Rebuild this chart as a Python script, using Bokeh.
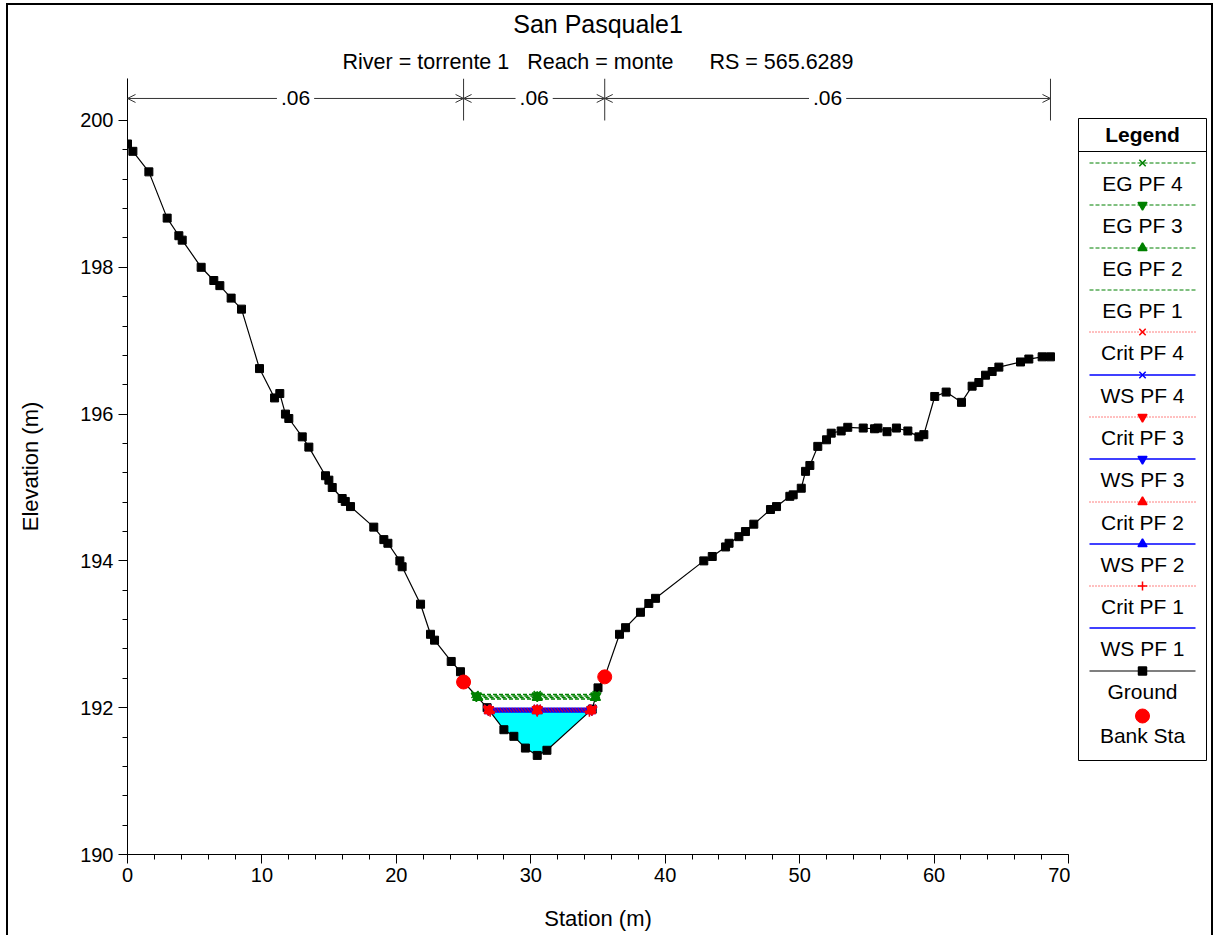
import re
import numpy as np
from bokeh.plotting import figure
from bokeh.layouts import row
from bokeh.models import Range1d, Label, Arrow, OpenHead, FixedTicker, Title, InlineStyleSheet
from bokeh.embed import file_html
from bokeh.resources import INLINE
from bokeh.core.properties import value

# ---------------- data ----------------
title_text = "San Pasquale1"
subtitle_text = "River = torrente 1   Reach = monte      RS = 565.6289"

station = [0.0, 0.4, 1.59, 2.95, 3.82, 4.07, 5.48, 6.42, 6.87, 7.71, 8.48, 9.82,
           10.94, 11.33, 11.75, 12.0, 13.0, 13.49, 14.73, 14.98, 15.23, 15.97, 16.2,
           16.59, 18.32, 19.07, 19.37, 20.26, 20.43, 21.8, 22.54, 22.84, 24.08, 24.77,
           25.0, 26.75, 28.0, 28.74, 29.6, 30.48, 31.2, 34.57, 35.0, 35.5, 36.6, 37.05,
           38.16, 38.78, 39.28, 42.87, 43.5, 44.49, 44.75, 45.48, 45.97, 46.59, 47.83,
           48.28, 49.27, 49.52, 50.12, 50.44, 50.76, 51.35, 52.0, 52.35, 53.09, 53.58,
           54.73, 55.57, 55.82, 56.5, 57.2, 58.05, 58.87, 59.24, 60.05, 60.9, 62.04,
           62.83, 63.33, 63.83, 64.32, 64.82, 66.43, 67.05, 68.04, 68.66]
elevation = [199.68, 199.58, 199.3, 198.67, 198.43, 198.37, 198.0, 197.82, 197.75, 197.58,
             197.43, 196.62, 196.22, 196.28, 196.0, 195.94, 195.69, 195.55, 195.16, 195.1,
             195.0, 194.85, 194.81, 194.74, 194.46, 194.29, 194.24, 194.0, 193.92, 193.41,
             193.0, 192.92, 192.63, 192.49, 192.35, 192.0, 191.7, 191.61, 191.45, 191.35,
             191.42, 191.98, 192.27, 192.42, 193.0, 193.09, 193.3, 193.42, 193.49, 194.0,
             194.06, 194.19, 194.24, 194.33, 194.4, 194.5, 194.7, 194.74, 194.88, 194.9,
             194.99, 195.22, 195.3, 195.56, 195.65, 195.74, 195.77, 195.82, 195.81, 195.8,
             195.81, 195.76, 195.81, 195.77, 195.69, 195.72, 196.24, 196.3, 196.16, 196.38,
             196.43, 196.53, 196.58, 196.64, 196.71, 196.75, 196.78, 196.78]
bank_stations = [25.0, 35.5]
mannings_n = [".06", ".06", ".06"]

profiles = ["PF 1", "PF 2", "PF 3", "PF 4"]
ws_elev = [191.945, 191.96, 191.975, 191.99]
crit_elev = [191.945, 191.96, 191.975, 191.99]
eg_elev = [192.12, 192.14, 192.16, 192.18]

x_ticks = [0, 10, 20, 30, 40, 50, 60, 70]
y_ticks = [190, 192, 194, 196, 198, 200]

# ---------------- styles ----------------
FONT = "Liberation Sans"
GREEN, RED, BLUE = "#008000", "#FF0000", "#0000FF"
prof_markers = [None, "triangle", "inverted_triangle", "x"]

st = np.array(station)
el = np.array(elevation)
i_min = int(np.argmin(el))


def crossing(level):
    i = i_min
    while el[i] < level:
        i -= 1
    xl = st[i] + (level - el[i]) * (st[i + 1] - st[i]) / (el[i + 1] - el[i])
    j = i_min
    while el[j] < level:
        j += 1
    xr = st[j - 1] + (level - el[j - 1]) * (st[j] - st[j - 1]) / (el[j] - el[j - 1])
    return xl, xr, i, j


def keep_spaces(s):
    # keep runs of spaces visible (SVG collapses plain whitespace)
    return re.sub(r" {2,}", lambda m: "\u00a0" * len(m.group(0)), s)


Y_TOP = 200.572
p = figure(width=1070, height=935, x_range=Range1d(0, 70), y_range=Range1d(190, Y_TOP),
           output_backend="svg", toolbar_location=None,
           min_border_left=127, min_border_right=2, min_border_top=78, min_border_bottom=81)
p.xgrid.visible = False
p.ygrid.visible = False
p.outline_line_color = None
p.background_fill_color = "white"
p.border_fill_color = "white"

# title (outermost) and subtitle
p.title.text = title_text
p.title.align = "center"
p.title.text_font = FONT
p.title.text_font_size = "25px"
p.title.text_font_style = "normal"
p.title.text_color = "black"
p.add_layout(Title(text=keep_spaces(subtitle_text), align="center", text_font=FONT,
                   text_font_size="21.5px", text_font_style="normal", text_color="black"), "above")

p.xaxis.ticker = FixedTicker(ticks=x_ticks, minor_ticks=list(range(0, 71, 2)))
p.yaxis.ticker = FixedTicker(ticks=y_ticks, minor_ticks=[round(190 + 0.4 * k, 1) for k in range(26)])
for ax in (p.xaxis[0], p.yaxis[0]):
    ax.axis_line_color = "black"
    ax.major_tick_line_color = "black"
    ax.minor_tick_line_color = "black"
    ax.major_tick_out = 9
    ax.major_tick_in = 0
    ax.minor_tick_out = 5
    ax.minor_tick_in = 0
    ax.major_label_text_font = FONT
    ax.major_label_text_font_size = "20px"
    ax.major_label_text_color = "black"
    ax.axis_label_text_font = FONT
    ax.axis_label_text_font_size = "22px"
    ax.axis_label_text_font_style = "normal"
    ax.axis_label_text_color = "black"
p.xaxis.axis_label = "Station (m)"
p.yaxis.axis_label = "Elevation (m)"
p.xaxis.major_label_standoff = 4
p.yaxis.major_label_standoff = 5
p.xaxis.axis_label_standoff = 21
p.yaxis.axis_label_standoff = 34

# water fill
wl = max(ws_elev)
xl, xr, i0, j0 = crossing(wl)
fx = [xl] + list(st[i0 + 1:j0]) + [xr]
fy = [wl] + list(el[i0 + 1:j0]) + [wl]
p.patch(fx, fy, fill_color="#00FFFF", line_color=None)

# ground
p.line(station, elevation, line_color="black", line_width=1.2)
p.scatter(station, elevation, marker="square", size=8, color="black")

x_thal = st[i_min]
# EG lines
for k in range(4):
    a, b, _, _ = crossing(eg_elev[k])
    p.line([a, b], [eg_elev[k]] * 2, line_color=GREEN, line_width=1.5, line_dash="4 2")
    if prof_markers[k]:
        p.scatter([a, x_thal, b], [eg_elev[k]] * 3, marker=prof_markers[k], size=10,
                  color=GREEN, line_width=1.5)
# WS lines
for k in range(4):
    a, b, _, _ = crossing(ws_elev[k])
    p.line([a, b], [ws_elev[k]] * 2, line_color=BLUE, line_width=2)
    if prof_markers[k]:
        p.scatter([a, x_thal, b], [ws_elev[k]] * 3, marker=prof_markers[k], size=10,
                  color=BLUE, line_width=1.5)
# Crit lines
crit_markers = ["cross", "triangle", "inverted_triangle", "x"]
for k in range(4):
    a, b, _, _ = crossing(crit_elev[k])
    p.line([a, b], [crit_elev[k]] * 2, line_color=RED, line_width=1.2, line_dash="1 2")
    p.scatter([a, x_thal, b], [crit_elev[k]] * 3, marker=crit_markers[k], size=10,
              color=RED, line_width=1.5)

# bank stations
bank_el = [float(np.interp(b, st, el)) for b in bank_stations]
p.scatter(bank_stations, bank_el, marker="circle", size=14, color=RED)

# Manning's n arrows
bounds = [station[0], bank_stations[0], bank_stations[1], station[-1]]
ARROW_Y = 200.3
p.segment(x0=bounds, y0=[200.0] * 4, x1=bounds, y1=[Y_TOP] * 4, line_color="#333333", line_width=1)
for k in range(3):
    a, b = bounds[k], bounds[k + 1]
    p.add_layout(Arrow(start=OpenHead(size=8, line_width=1, line_color="#333333"),
                       end=OpenHead(size=8, line_width=1, line_color="#333333"),
                       x_start=a, y_start=ARROW_Y, x_end=b, y_end=ARROW_Y,
                       line_color="#333333", line_width=1))
    p.add_layout(Label(x=(a + b) / 2, y=ARROW_Y, text=mannings_n[k], text_align="center",
                       text_baseline="middle", text_font=FONT, text_font_size="21px",
                       background_fill_color="white", padding=4, text_color="black"))

# ---------------- legend figure ----------------
leg = figure(width=146, height=935, x_range=Range1d(1070, 1216), y_range=Range1d(854, 78),
             output_backend="svg", toolbar_location=None,
             min_border_left=0, min_border_right=0, min_border_top=78, min_border_bottom=81)
leg.axis.visible = False
leg.grid.visible = False
leg.outline_line_color = None
leg.border_fill_color = "white"

leg.quad(left=[1078], right=[1206], top=[118], bottom=[760], fill_color="white", line_color="black")
leg.segment(x0=[1078], y0=[151], x1=[1206], y1=[151], line_color="black")
leg.text(x=[1142], y=[134], text=["Legend"], text_font=value(FONT), text_font_style="bold",
         text_font_size="21px", text_align="center", text_baseline="middle", text_color="black")

entries = []
for k in [3, 2, 1, 0]:
    entries.append(("EG " + profiles[k], GREEN, "4 2", prof_markers[k], 1))
entries += [
    ("Crit PF 4", RED, "1 2", "x", 1), ("WS PF 4", BLUE, "solid", "x", 1.5),
    ("Crit PF 3", RED, "1 2", "inverted_triangle", 1), ("WS PF 3", BLUE, "solid", "inverted_triangle", 1.5),
    ("Crit PF 2", RED, "1 2", "triangle", 1), ("WS PF 2", BLUE, "solid", "triangle", 1.5),
    ("Crit PF 1", RED, "1 2", "cross", 1), ("WS PF 1", BLUE, "solid", None, 1.5),
    ("Ground", "black", "solid", "square", 1.2),
]
for idx, (lab, col, dash, mk, lw) in enumerate(entries):
    ly = int(162.6 + 42.3 * idx) + 0.5
    leg.line([1089, 1195], [ly, ly], line_color=col, line_dash=dash, line_width=lw)
    if mk:
        leg.scatter([1142], [ly], marker=mk, size=9 if mk != "square" else 8, color=col, line_width=1.5)
    leg.text(x=[1142], y=[ly + 20], text=[lab], text_font=value(FONT), text_font_size="21px",
             text_align="center", text_baseline="middle", text_color="black")
ly = 162.6 + 42.3 * len(entries)
leg.scatter([1142], [ly + 3], marker="circle", size=14, color=RED)
leg.text(x=[1142], y=[ly + 22], text=["Bank Sta"], text_font=value(FONT), text_font_size="21px",
         text_align="center", text_baseline="middle", text_color="black")

frame_css = InlineStyleSheet(css="""
:host { position: relative; }
:host::after {
  content: ""; position: absolute; left: 6px; top: 3px; right: 3px; bottom: 0px;
  border: 2px solid black; border-bottom: none; pointer-events: none; z-index: 100;
}
""")
layout = row(p, leg, stylesheets=[frame_css])
open("out.html", "w").write(file_html(layout, INLINE))
